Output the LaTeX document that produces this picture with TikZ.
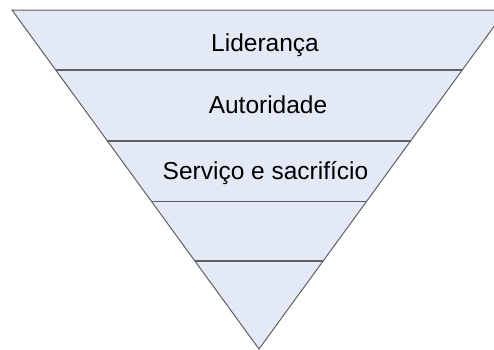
\documentclass[tikz,border=0pt]{standalone}
\usepackage{fontspec}
\setmainfont{Liberation Sans}
\usepackage{xcolor}
\usepackage{tikz}

\begin{document}
\begin{tikzpicture}[x=1pt,y=1pt,yscale=-1,xscale=1]
\useasboundingbox (0,0) rectangle (494,349);
\clip (0,0) rectangle (494,349);

%Shape: Triangle [id:tri]
\draw  [color={rgb, 255:red, 96; green, 96; blue, 100 }  ,fill={rgb, 255:red, 228; green, 234; blue, 245 }  ,fill opacity=1 ][line width=1] (12,10) -- (506,10) -- (259,349) -- cycle ;
%Straight Lines [id:sep1]
\draw  [color={rgb, 255:red, 96; green, 96; blue, 100 }  ][line width=1.2]  (55.7,70) -- (462.3,70) ;
%Straight Lines [id:sep2]
\draw  [color={rgb, 255:red, 96; green, 96; blue, 100 }  ][line width=1.2]  (107.4,141) -- (410.6,141) ;
%Straight Lines [id:sep3]
\draw  [color={rgb, 255:red, 96; green, 96; blue, 100 }  ][line width=1.2]  (151.5,201.5) -- (366.5,201.5) ;
%Straight Lines [id:sep4]
\draw  [color={rgb, 255:red, 96; green, 96; blue, 100 }  ][line width=1.2]  (194.9,261) -- (323.1,261) ;

% Text Node
\draw (265,51) node [anchor=base][inner sep=0.75pt] (lideranca) {\fontsize{24.5}{29}\selectfont Liderança};
% Text Node
\draw (268,113) node [anchor=base][inner sep=0.75pt] (autoridade) {\fontsize{24.5}{29}\selectfont Autoridade};
% Text Node
\draw (265.5,179) node [anchor=base][inner sep=0.75pt] (servico) {\fontsize{24.5}{29}\selectfont Serviço e sacrifício};

\end{tikzpicture}
\end{document}
